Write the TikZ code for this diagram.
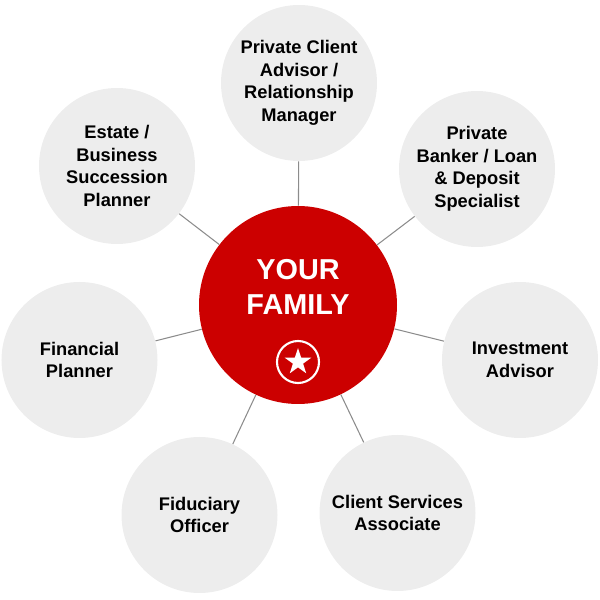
\documentclass[tikz,border=0pt]{standalone}
\usepackage{fontspec}
\setmainfont{Liberation Sans}
\usetikzlibrary{shapes.geometric}
\definecolor{famred}{HTML}{CC0000}
\definecolor{rolegray}{HTML}{EDEDED}
\definecolor{linkgray}{HTML}{8C8C8C}
\begin{document}
\begin{tikzpicture}[
    role/.style={circle, fill=rolegray, minimum size=3.12cm, inner sep=0pt, align=center,
        font=\fontsize{10.4}{12.8}\selectfont\bfseries},
    link/.style={linkgray, line width=0.6pt}
  ]
    \useasboundingbox (0,0) rectangle (12,12);
    \node[circle, fill=famred, minimum size=3.96cm, inner sep=0pt] (fam) at (5.96,5.90) {};
    \node[white, align=center, font=\fontsize{16.4}{19.8}\selectfont\bfseries] (famtext) at (5.96,6.26) {YOUR\\FAMILY};
    \node[circle, draw=white, line width=1.2pt, minimum size=0.84cm, inner sep=0pt] (ring) at (5.96,4.76) {};
    \node[star, star points=5, star point ratio=2.618, fill=white, minimum size=0.56cm, inner sep=0pt] (starmark) at (5.96,4.76) {};
    % team around the family
    \node[role] (advisor) at (5.98,10.34) {Private Client\\Advisor /\\Relationship\\Manager};
    \node[role] (banker) at (9.54,8.62) {Private\\Banker / Loan\\\& Deposit\\Specialist};
    \node[role] (invest) at (10.40,4.80) {Investment\\Advisor};
    \node[role] (service) at (7.95,1.74) {Client Services\\Associate};
    \node[role] (fiduciary) at (3.99,1.70) {Fiduciary\\Officer};
    \node[role] (planner) at (1.59,4.80) {Financial\\Planner};
    \node[role] (estate) at (2.34,8.68) {Estate /\\Business\\Succession\\Planner};
    \foreach \r in {advisor,banker,invest,service,fiduciary,planner,estate}
      \draw[link] (fam) -- (\r);
\end{tikzpicture}
\end{document}
